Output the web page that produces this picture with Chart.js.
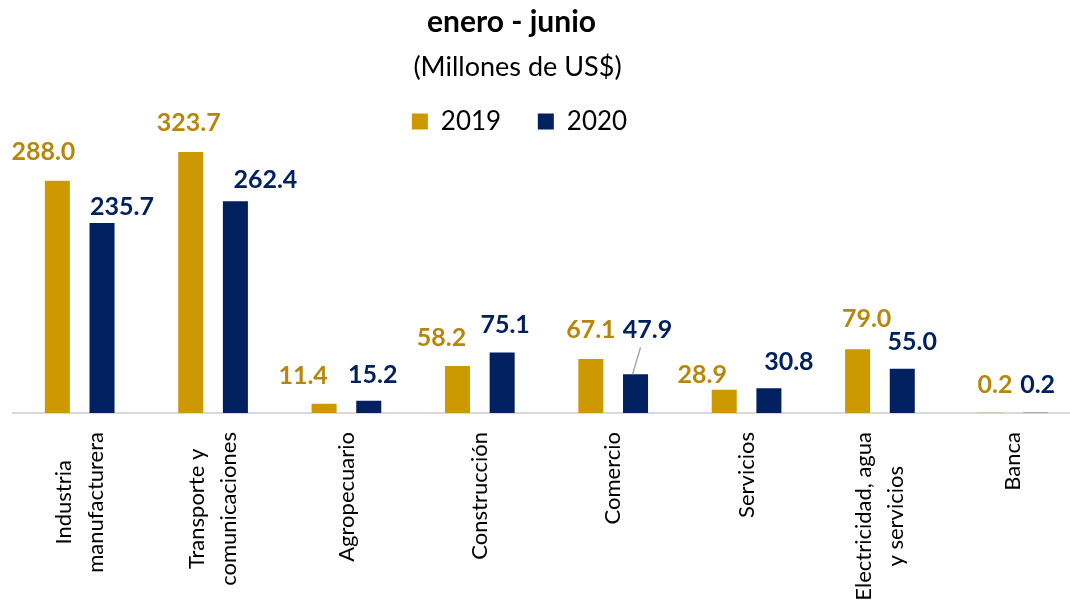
<!DOCTYPE html>
<html lang="es">
<head>
<meta charset="utf-8">
<title>enero - junio</title>
<script src="https://cdn.jsdelivr.net/npm/chart.js@4/dist/chart.umd.min.js"></script>
<style>
  html, body { margin: 0; padding: 0; background: #fff; overflow: hidden; }
  #wrap { width: 1080px; height: 602px; }
</style>
</head>
<body>
<div id="wrap"><canvas id="chart" width="1080" height="602"></canvas></div>
<script>
// Datos (millones de US$)
const categorias = [
  ["Industria", "manufacturera"],
  ["Transporte y", "comunicaciones"],
  ["Agropecuario"],
  ["Construcción"],
  ["Comercio"],
  ["Servicios"],
  ["Electricidad, agua", "y servicios"],
  ["Banca"],
];
const anios = ["2019", "2020"];
const valores2019 = [288.0, 323.7, 11.4, 58.2, 67.1, 28.9, 79.0, 0.2];
const valores2020 = [235.7, 262.4, 15.2, 75.1, 47.9, 30.8, 55.0, 0.2];

// ajustes manuales de las etiquetas (como en el original)
const ajuste2019 = [[-14, -1], [-2, -1], [-21, 0], [-16, 0], [0, -1], [-22, 13], [9, -2], [4, 0]];
const ajuste2020 = [[20, 12], [30, 7], [4, 2], [3, 1], [12, -16], [20, 2], [10, 1], [2, 0]];

const ORO = "#CC9900";
const ORO_TEXTO = "#B8860B";
const AZUL = "#002060";

Chart.defaults.font.family = "Lato, 'Noto Sans', sans-serif";
Chart.defaults.color = "#000";

// mover titulo y leyenda un poco a la izquierda
const moverCabecera = {
  id: "moverCabecera",
  afterLayout(chart) {
    chart.boxes.forEach((b) => {
      if (!b.options || b.options.position !== "top") return;
      let dx = -35;
      if (b === chart.legend) dx = -27;
      else if (b !== chart.titleBlock) dx = -29;
      b.left += dx;
      b.right += dx;
    });
  },
};

// etiquetas del eje x, giradas y centradas
const etiquetasEje = {
  id: "etiquetasEje",
  afterDraw(chart) {
    const ctx = chart.ctx;
    const x = chart.scales.x;
    const lh = 32;
    ctx.save();
    ctx.font = "22px Lato, 'Noto Sans', sans-serif";
    ctx.fillStyle = "#000";
    ctx.textAlign = "center";
    ctx.textBaseline = "middle";
    chart.data.labels.forEach((lineas, i) => {
      const px = x.getPixelForTick(i);
      const ancho = Math.max(...lineas.map((l) => ctx.measureText(l).width));
      ctx.save();
      ctx.translate(px, x.top + 19 + ancho / 2);
      ctx.rotate(-Math.PI / 2);
      lineas.forEach((l, j) => {
        ctx.fillText(l, 0, (j - (lineas.length - 1) / 2) * lh);
      });
      ctx.restore();
    });
    ctx.restore();
  },
};

// valores sobre las barras
const valoresBarras = {
  id: "valoresBarras",
  afterDatasetsDraw(chart) {
    const ctx = chart.ctx;
    const ajustes = [ajuste2019, ajuste2020];
    const colores = [ORO_TEXTO, AZUL];
    ctx.save();
    ctx.font = "bold 25px Lato, 'Noto Sans', sans-serif";
    ctx.textAlign = "center";
    ctx.textBaseline = "middle";
    chart.data.datasets.forEach((ds, d) => {
      const meta = chart.getDatasetMeta(d);
      meta.data.forEach((bar, i) => {
        const [dx, dy] = ajustes[d][i];
        const lx = bar.x + dx;
        const ly = bar.y - 28 + dy;
        if (dy < -10) {
          // linea guia
          ctx.strokeStyle = "#A6A6A6";
          ctx.lineWidth = 1.5;
          ctx.beginPath();
          ctx.moveTo(lx - 7, ly + 17);
          ctx.lineTo(bar.x - 3, bar.y);
          ctx.stroke();
        }
        ctx.fillStyle = colores[d];
        ctx.fillText(ds.data[i].toFixed(1), lx, ly);
      });
    });
    ctx.restore();
  },
};

function crearGrafico() {
  const ctx = document.getElementById("chart").getContext("2d");
  return new Chart(ctx, {
    type: "bar",
    data: {
      labels: categorias,
      datasets: [
        { label: anios[0], data: valores2019, backgroundColor: ORO },
        { label: anios[1], data: valores2020, backgroundColor: AZUL },
      ],
    },
    options: {
      responsive: false,
      animation: false,
      devicePixelRatio: 1,
      categoryPercentage: 0.67,
      barPercentage: 0.56,
      layout: { padding: { left: 13, right: 0, top: 4, bottom: 0 } },
      plugins: {
        title: {
          display: true,
          text: "enero - junio",
          color: "#000",
          font: { size: 30, weight: "bold" },
          padding: { top: 0, bottom: 11 },
        },
        subtitle: {
          display: true,
          text: "(Millones de US$)",
          color: "#000",
          font: { size: 27, weight: "normal" },
          padding: { top: 0, bottom: 15 },
        },
        legend: {
          position: "top",
          labels: {
            boxWidth: 16,
            boxHeight: 16,
            padding: 10,
            color: "#000",
            font: { size: 26 },
            generateLabels: function (chart) {
              const items = Chart.defaults.plugins.legend.labels.generateLabels(chart);
              items.forEach((it) => { it.lineWidth = 0; });
              if (items[0]) items[0].text = items[0].text + " ".repeat(4);
              return items;
            },
          },
        },
        tooltip: { enabled: false },
      },
      scales: {
        x: {
          grid: { display: true, drawOnChartArea: false, drawTicks: false, color: "transparent" },
          border: { display: true, color: "#D9D9D9", width: 2 },
          ticks: { display: false },
          afterFit: function (scale) {
            scale.height = 189;
          },
        },
        y: {
          display: false,
          min: 0,
          max: 333,
        },
      },
    },
    plugins: [moverCabecera, valoresBarras, etiquetasEje],
  });
}

document.addEventListener("DOMContentLoaded", function () {
  crearGrafico();
});
</script>
</body>
</html>
